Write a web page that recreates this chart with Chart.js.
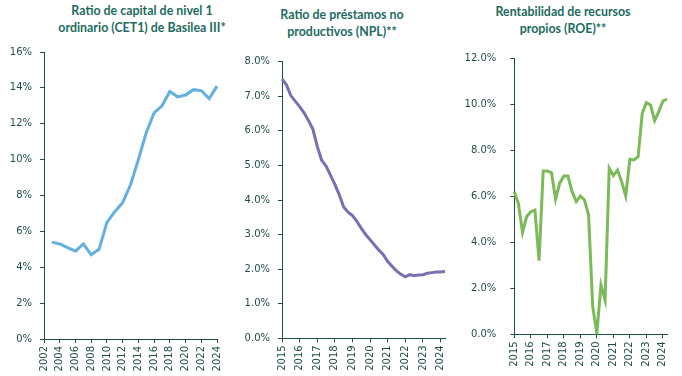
<!DOCTYPE html>
<html>
<head>
<meta charset="utf-8">
<script src="https://cdn.jsdelivr.net/npm/chart.js@4.4.1/dist/chart.umd.min.js"></script>
<style>
  body { margin: 0; background: #fff; width: 682px; height: 376px; position: relative; overflow: hidden; }
  canvas { position: absolute; top: 0; }
  .title {
    position: absolute; width: 300px; text-align: center;
    font-family: Lato, sans-serif; font-weight: bold; font-size: 12.4px; line-height: 17px;
    color: #1d6b5e; white-space: nowrap;
  }
</style>
</head>
<body>
<div class="title" style="left:-8px;top:2px">Ratio de capital de nivel 1<br>ordinario (CET1) de Basilea III*</div>
<div class="title" style="left:192px;top:5.5px">Ratio de préstamos no<br>productivos (NPL)**</div>
<div class="title" style="left:413px;top:2.5px">Rentabilidad de recursos<br>propios (ROE)**</div>
<canvas id="cet1" width="232" height="376" style="left:0px"></canvas>
<canvas id="npl" width="228" height="376" style="left:232px"></canvas>
<canvas id="roe" width="222" height="376" style="left:460px"></canvas>
<script>
const cet1Years = ['2002', '2003', '2004', '2005', '2006', '2007', '2008', '2009', '2010', '2011', '2012',
  '2013', '2014', '2015', '2016', '2017', '2018', '2019', '2020', '2021', '2022', '2023', '2024']
const cet1Values = [null, 5.4, 5.3, 5.1, 4.9, 5.3, 4.7, 5.0, 6.5, 7.1, 7.6,
  8.6, 10.0, 11.5, 12.6, 13.0, 13.8, 13.5, 13.6, 13.9, 13.85, 13.4, 14.1]

const quarters = [
  '2015T1', '2015T2', '2015T3', '2015T4', '2016T1', '2016T2', '2016T3', '2016T4',
  '2017T1', '2017T2', '2017T3', '2017T4', '2018T1', '2018T2', '2018T3', '2018T4',
  '2019T1', '2019T2', '2019T3', '2019T4', '2020T1', '2020T2', '2020T3', '2020T4',
  '2021T1', '2021T2', '2021T3', '2021T4', '2022T1', '2022T2', '2022T3', '2022T4',
  '2023T1', '2023T2', '2023T3', '2023T4', '2024T1', '2024T2']

const nplValues = [
  7.50, 7.33, 7.02, 6.86, 6.70, 6.52, 6.30, 6.05,
  5.55, 5.15, 4.98, 4.72, 4.45, 4.15, 3.80, 3.65,
  3.55, 3.38, 3.18, 3.00, 2.85, 2.70, 2.55, 2.42,
  2.22, 2.08, 1.95, 1.85, 1.78, 1.84, 1.81, 1.83,
  1.84, 1.88, 1.90, 1.92, 1.92, 1.93]

const roeValues = [
  6.2, 5.67, 4.43, 5.12, 5.33, 5.4, 3.2, 7.1,
  7.1, 7.03, 5.88, 6.57, 6.88, 6.88, 6.2, 5.77,
  6.01, 5.84, 5.19, 1.2, 0.04, 2.14, 1.49, 7.22,
  6.9, 7.14, 6.64, 6.01, 7.61, 7.58, 7.72, 9.61,
  10.07, 9.97, 9.29, 9.68, 10.14, 10.23]

const axisColor = '#1d4f4b'
const textColor = '#1e4d4a'

function makeChart(id, cfg) {
  const ctx = document.getElementById(id).getContext('2d')
  return new Chart(ctx, {
    type: 'line',
    data: {
      labels: cfg.labels,
      datasets: [{
        data: cfg.values,
        borderColor: cfg.color,
        borderWidth: 3,
        pointRadius: 0,
        fill: false,
        tension: 0
      }]
    },
    options: {
      responsive: false,
      animation: false,
      devicePixelRatio: 1,
      layout: { padding: cfg.padding },
      plugins: {
        legend: { display: false },
        tooltip: { enabled: false }
      },
      scales: {
        x: {
          offset: false,
          afterFit: (scale) => { scale.height = cfg.xHeight },
          border: { display: true, color: axisColor, width: 1 },
          grid: {
            drawOnChartArea: false,
            tickLength: 4,
            tickColor: (c) => (c.index % cfg.every === 0 ? axisColor : 'rgba(0,0,0,0)')
          },
          ticks: {
            autoSkip: false,
            maxRotation: 90,
            minRotation: 90,
            padding: 3,
            color: textColor,
            font: { family: 'DejaVu Sans', size: 10 },
            callback: function (value, index) {
              return index % cfg.every === 0 ? this.getLabelForValue(value).slice(0, 4) : ''
            }
          }
        },
        y: {
          min: 0,
          max: cfg.max,
          afterFit: (scale) => { scale.width = cfg.yWidth },
          border: { display: true, color: axisColor, width: 1 },
          grid: { drawOnChartArea: false, tickLength: 4, tickColor: axisColor },
          ticks: {
            stepSize: cfg.step,
            padding: cfg.tickPad,
            color: textColor,
            font: { family: 'DejaVu Sans', size: 10 },
            callback: (v) => v.toFixed(cfg.decimals) + '%'
          }
        }
      }
    }
  })
}

makeChart('cet1', {
  labels: cet1Years,
  values: cet1Values,
  color: '#62b0e2',
  padding: { left: 0, right: 8, top: 52, bottom: 0 },
  yWidth: 44,
  xHeight: 37,
  every: 2,
  max: 16,
  step: 2,
  decimals: 0,
  tickPad: 8
})

makeChart('npl', {
  labels: quarters,
  values: nplValues,
  color: '#7b6fb4',
  padding: { left: 0, right: 4, top: 61.7, bottom: 0 },
  yWidth: 50,
  xHeight: 37.7,
  every: 4,
  max: 8,
  step: 1,
  decimals: 1,
  tickPad: 8
})

makeChart('roe', {
  labels: quarters,
  values: roeValues,
  color: '#7aba57',
  padding: { left: 4.3, right: 5, top: 58.3, bottom: 0 },
  yWidth: 50,
  xHeight: 41.7,
  every: 4,
  max: 12,
  step: 2,
  decimals: 1,
  tickPad: 14
})
</script>
</body>
</html>
